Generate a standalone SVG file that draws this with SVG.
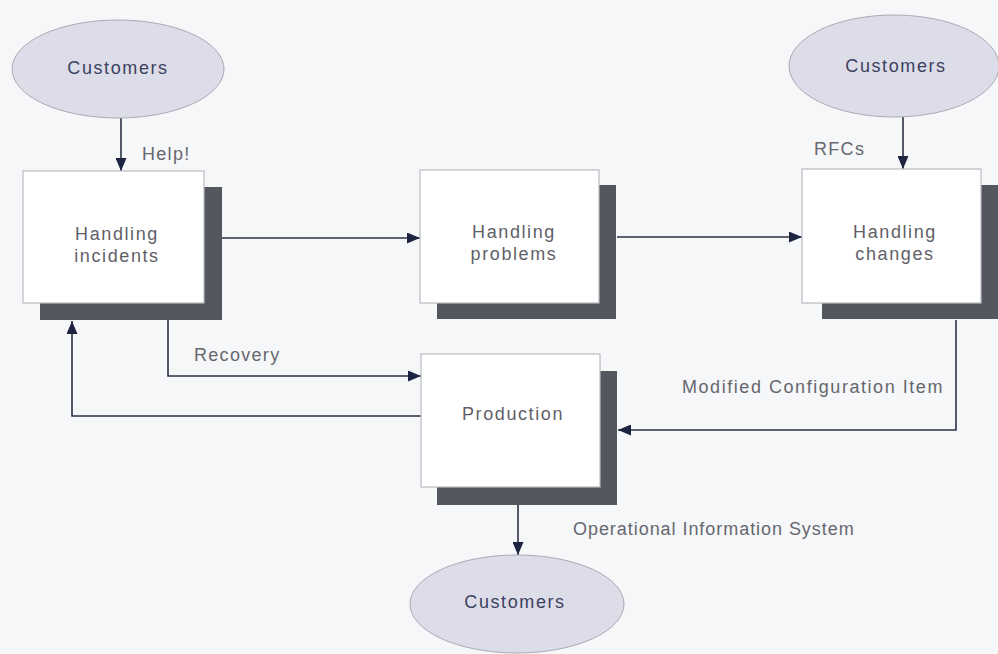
<svg xmlns="http://www.w3.org/2000/svg" width="998" height="654" viewBox="0 0 998 654">
<defs>
<marker id="arr" viewBox="0 0 13 11" refX="13" refY="5.5" markerWidth="13" markerHeight="11" markerUnits="userSpaceOnUse" orient="auto">
<path d="M0,0 L13,5.5 L0,11 z" fill="#1d2440"/>
</marker>
</defs>
<style>
.bg{fill:#f6f7f9}
.ell{fill:#dcdde8;stroke:#a9aab4;stroke-width:1}
.box{fill:#ffffff;stroke:#b9bbc2;stroke-width:1.2}
.sh{fill:#55575f}
.con{fill:none;stroke:#2c3146;stroke-width:1.6;marker-end:url(#arr)}
.t{font-family:"Liberation Sans",Arial,sans-serif;font-size:18px;letter-spacing:1.6px;fill:#5f6068;text-anchor:middle}
.c{fill:#3c4160}
.l{font-family:"Liberation Sans",Arial,sans-serif;font-size:18px;letter-spacing:1.3px;fill:#66676e}
</style>
<rect class="bg" x="0" y="0" width="998" height="654"/>

<g id="connectors">
<path class="con" d="M121,118 L121,171"/>
<path class="con" d="M222,238 L420,238"/>
<path class="con" d="M617,237 L802,237"/>
<path class="con" d="M903,117 L903,169"/>
<path class="con" d="M168,320 L168,376 L421,376"/>
<path class="con" d="M421,416 L72,416 L72,321"/>
<path class="con" d="M956,320 L956,430 L618,430"/>
<path class="con" d="M518,505 L518,555"/>
</g>

<g id="customers-top-left">
<ellipse class="ell" cx="118" cy="69" rx="106" ry="49"/>
<text class="t c" x="118" y="74">Customers</text>
</g>

<g id="customers-top-right">
<ellipse class="ell" cx="894" cy="66" rx="105" ry="51"/>
<text class="t c" x="896" y="72">Customers</text>
</g>

<g id="customers-bottom">
<ellipse class="ell" cx="517" cy="604" rx="107" ry="49"/>
<text class="t c" x="515" y="608">Customers</text>
</g>

<g id="handling-incidents">
<rect class="sh" x="40" y="187" width="182" height="133"/>
<rect class="box" x="23" y="171" width="181" height="132"/>
<text class="t" x="117" y="240">Handling</text>
<text class="t" x="117" y="262">incidents</text>
</g>

<g id="handling-problems">
<rect class="sh" x="437" y="185" width="179" height="134"/>
<rect class="box" x="420" y="170" width="179" height="133"/>
<text class="t" x="514" y="238">Handling</text>
<text class="t" x="514" y="260">problems</text>
</g>

<g id="handling-changes">
<rect class="sh" x="822" y="185" width="180" height="134"/>
<rect class="box" x="802" y="169" width="179" height="134"/>
<text class="t" x="895" y="238">Handling</text>
<text class="t" x="895" y="260">changes</text>
</g>

<g id="production">
<rect class="sh" x="437" y="371" width="180" height="134"/>
<rect class="box" x="421" y="354" width="179" height="133"/>
<text class="t" x="513" y="420">Production</text>
</g>

<g id="labels">
<text class="l" x="142" y="160">Help!</text>
<text class="l" x="814" y="155">RFCs</text>
<text class="l" x="194" y="361">Recovery</text>
<text class="l" x="682" y="393" style="letter-spacing:1.55px">Modified Configuration Item</text>
<text class="l" x="573" y="535" style="letter-spacing:0.95px">Operational Information System</text>
</g>
</svg>
